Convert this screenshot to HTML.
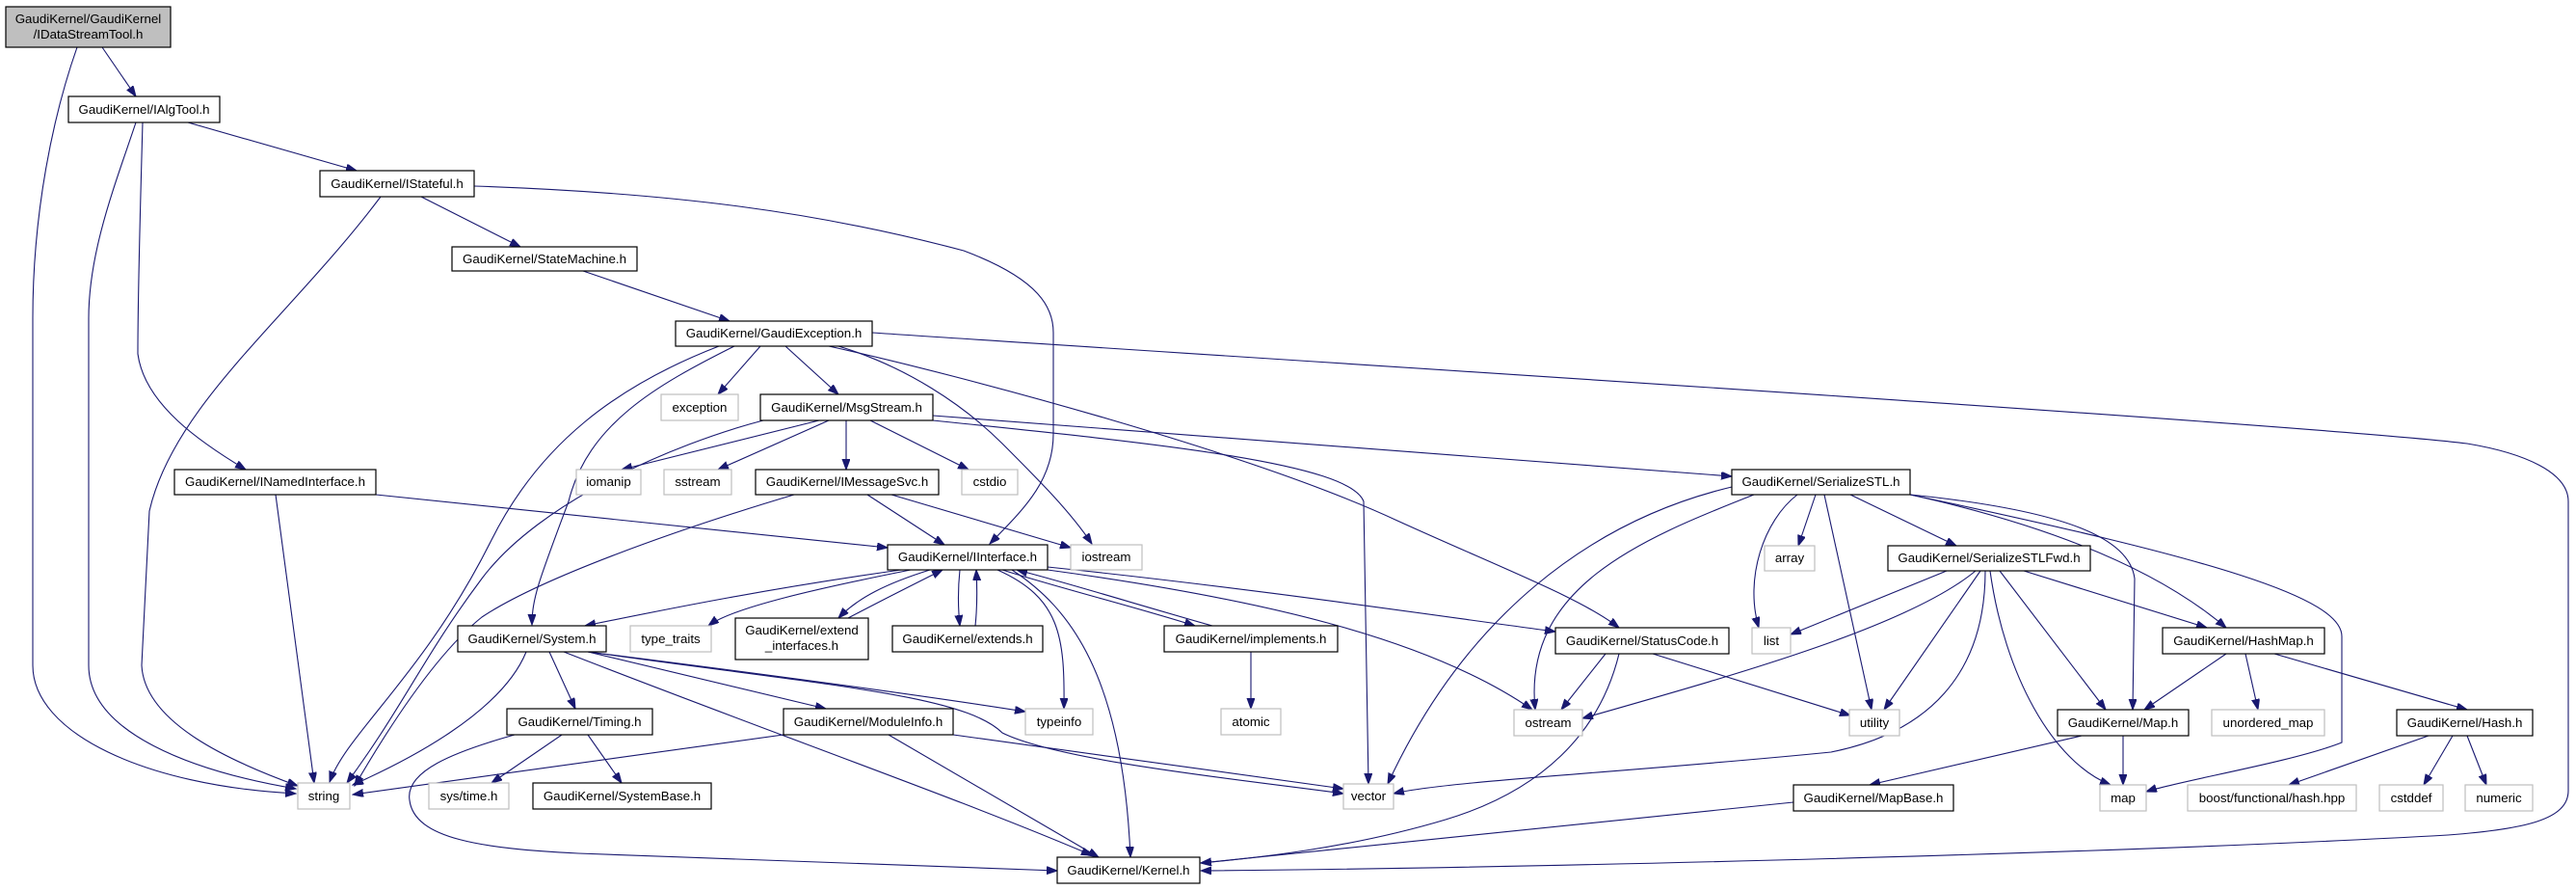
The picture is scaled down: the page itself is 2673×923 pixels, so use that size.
<!DOCTYPE html>
<html><head><meta charset="utf-8"><style>
html,body{margin:0;padding:0;background:#fff;}
svg{display:block;}
text{font-family:"Liberation Sans",Arial,sans-serif;font-size:13.3px;fill:#000;}
.b{fill:#fff;stroke:#000;stroke-width:1.2;}
.g{fill:#fff;stroke:#bfbfbf;stroke-width:1.2;}
.r{fill:#bfbfbf;stroke:#000;stroke-width:1.2;}
path.e{fill:none;stroke:#191970;stroke-width:1.1;marker-end:url(#a);}
</style></head><body>
<svg width="2673" height="923" viewBox="0 0 2673 923" xmlns="http://www.w3.org/2000/svg">
<defs><marker id="a" markerUnits="userSpaceOnUse" markerWidth="12" markerHeight="9" refX="11" refY="4" orient="auto"><path d="M0,0 L11,4 L0,8 z" fill="#191970" stroke="#191970"/></marker></defs>
<g>
<path class="e" d="M106,49 L141,100"/>
<path class="e" d="M80,49 C55,120 34,220 34,330 L34,690 C34,760 150,815 307,823"/>
<path class="e" d="M141,127 C120,190 92,260 92,330 L92,690 C92,760 200,800 307,818"/>
<path class="e" d="M148,127 C146,200 143,300 143,367 C150,420 210,460 255,487"/>
<path class="e" d="M395,204 C300,330 180,420 155,530 L147,690 C150,750 240,790 309,815"/>
<path class="e" d="M195,127 L370,177"/>
<path class="e" d="M437,204 L540,256"/>
<path class="e" d="M492,193 C700,200 850,220 1000,260 C1080,290 1093,320 1093,345 L1093,450 C1093,500 1060,530 1027,564"/>
<path class="e" d="M605,281 L757,333"/>
<path class="e" d="M789,359 L745,409"/>
<path class="e" d="M815,359 L870,409"/>
<path class="e" d="M762,359 C680,400 610,440 590,520 C560,600 552,620 552,648"/>
<path class="e" d="M746,359 C640,400 560,460 510,560 C440,700 360,760 342,811"/>
<path class="e" d="M860,359 C1000,390 1300,470 1450,540 C1560,590 1640,620 1680,651"/>
<path class="e" d="M870,359 C940,380 1000,420 1040,460 C1080,500 1110,530 1133,564"/>
<path class="e" d="M905,345 C1200,365 2400,440 2560,460 C2620,470 2665,490 2665,520 L2665,820 C2665,850 2620,860 2540,866 C2200,885 1600,900 1246,903"/>
<path class="e" d="M850,436 L645,487"/>
<path class="e" d="M860,436 L745,487"/>
<path class="e" d="M878,436 L878,487"/>
<path class="e" d="M903,436 L1005,487"/>
<path class="e" d="M968,431 C1300,455 1600,480 1797,494"/>
<path class="e" d="M968,436 C1200,460 1400,480 1415,520 L1420,813"/>
<path class="e" d="M792,436 C700,460 560,520 500,600 C440,680 420,730 360,812"/>
<path class="e" d="M824,513 C700,550 560,600 500,640 C450,680 400,760 368,815"/>
<path class="e" d="M900,513 L980,565"/>
<path class="e" d="M925,513 L1111,568"/>
<path class="e" d="M390,513 L921,568"/>
<path class="e" d="M286,513 L326,812"/>
<path class="e" d="M935,591 C800,610 700,630 607,649"/>
<path class="e" d="M945,591 C850,610 760,630 735,649"/>
<path class="e" d="M965,591 C920,605 890,620 870,641"/>
<path class="e" d="M880,641 C920,620 950,605 978,591"/>
<path class="e" d="M996,591 C994,610 994,630 996,649"/>
<path class="e" d="M1012,649 C1014,630 1014,610 1013,591"/>
<path class="e" d="M1040,591 C1100,610 1180,630 1240,649"/>
<path class="e" d="M1258,649 C1190,630 1110,605 1055,591"/>
<path class="e" d="M1035,591 C1100,620 1105,660 1104,735"/>
<path class="e" d="M1050,591 C1110,630 1165,700 1173,889"/>
<path class="e" d="M1087,591 C1300,620 1480,660 1590,736"/>
<path class="e" d="M1087,588 C1300,610 1500,640 1614,655"/>
<path class="e" d="M1298,676 L1298,735"/>
<path class="e" d="M546,676 C520,740 420,790 366,814"/>
<path class="e" d="M570,676 L597,735"/>
<path class="e" d="M610,676 L857,735"/>
<path class="e" d="M610,676 C800,700 950,720 1064,738"/>
<path class="e" d="M610,676 C850,710 1000,720 1040,760 C1100,790 1300,810 1394,823"/>
<path class="e" d="M585,676 C800,760 1000,830 1133,887"/>
<path class="e" d="M534,762 C470,780 420,800 425,830 C430,870 500,880 600,885 L1097,903"/>
<path class="e" d="M813,762 L366,824"/>
<path class="e" d="M583,762 L510,812"/>
<path class="e" d="M610,762 L645,812"/>
<path class="e" d="M989,762 L1394,818"/>
<path class="e" d="M922,762 L1140,889"/>
<path class="e" d="M1666,678 L1620,736"/>
<path class="e" d="M1715,678 L1920,742"/>
<path class="e" d="M1680,678 C1660,760 1600,820 1500,850 C1400,880 1300,890 1246,895"/>
<path class="e" d="M1920,513 L2030,566"/>
<path class="e" d="M1884,513 L1866,566"/>
<path class="e" d="M1865,513 C1830,540 1810,600 1825,651"/>
<path class="e" d="M1893,513 L1942,736"/>
<path class="e" d="M1820,513 C1700,560 1580,610 1593,736"/>
<path class="e" d="M1797,505 C1650,540 1520,640 1440,813"/>
<path class="e" d="M1982,513 C2300,580 2430,620 2430,660 L2430,770 C2380,790 2260,810 2227,821"/>
<path class="e" d="M1982,513 C2150,550 2250,600 2310,651"/>
<path class="e" d="M1982,513 C2150,530 2210,560 2215,600 L2213,736"/>
<path class="e" d="M2020,592 L1858,658"/>
<path class="e" d="M2050,592 C1980,650 1800,700 1642,745"/>
<path class="e" d="M2055,592 L1955,736"/>
<path class="e" d="M2060,592 C2060,700 2000,760 1900,780 C1700,800 1500,810 1446,823"/>
<path class="e" d="M2075,592 L2185,736"/>
<path class="e" d="M2065,592 C2080,700 2130,790 2190,814"/>
<path class="e" d="M2100,592 L2290,651"/>
<path class="e" d="M2310,678 L2225,736"/>
<path class="e" d="M2330,678 L2343,736"/>
<path class="e" d="M2360,678 L2560,736"/>
<path class="e" d="M2203,763 L2203,814"/>
<path class="e" d="M2160,763 L1940,814"/>
<path class="e" d="M1861,832 L1246,895"/>
<path class="e" d="M2520,763 L2375,814"/>
<path class="e" d="M2545,763 L2515,814"/>
<path class="e" d="M2560,763 L2580,814"/>
</g>
<g text-anchor="middle">
<rect class="r" x="6" y="7" width="171" height="42"/><text x="91.5" y="24">GaudiKernel/GaudiKernel</text><text x="91.5" y="40">/IDataStreamTool.h</text>
<rect class="b" x="71" y="100" width="157" height="27"/><text x="149.5" y="118">GaudiKernel/IAlgTool.h</text>
<rect class="b" x="332" y="177" width="160" height="27"/><text x="412" y="195">GaudiKernel/IStateful.h</text>
<rect class="b" x="469" y="256" width="192" height="25"/><text x="565" y="273">GaudiKernel/StateMachine.h</text>
<rect class="b" x="701" y="333" width="204" height="26"/><text x="803" y="350">GaudiKernel/GaudiException.h</text>
<rect class="g" x="686" y="409" width="80" height="27"/><text x="726" y="427">exception</text>
<rect class="b" x="789" y="409" width="179" height="27"/><text x="878.5" y="427">GaudiKernel/MsgStream.h</text>
<rect class="b" x="181" y="487" width="209" height="26"/><text x="285.5" y="504">GaudiKernel/INamedInterface.h</text>
<rect class="g" x="598" y="487" width="67" height="26"/><text x="631.5" y="504">iomanip</text>
<rect class="g" x="689" y="487" width="70" height="26"/><text x="724" y="504">sstream</text>
<rect class="b" x="784" y="487" width="190" height="26"/><text x="879" y="504">GaudiKernel/IMessageSvc.h</text>
<rect class="g" x="998" y="487" width="58" height="26"/><text x="1027" y="504">cstdio</text>
<rect class="b" x="1797" y="487" width="185" height="26"/><text x="1889.5" y="504">GaudiKernel/SerializeSTL.h</text>
<rect class="b" x="921" y="565" width="166" height="26"/><text x="1004" y="582">GaudiKernel/IInterface.h</text>
<rect class="g" x="1111" y="565" width="74" height="26"/><text x="1148" y="582">iostream</text>
<rect class="g" x="1831" y="566" width="52" height="26"/><text x="1857" y="583">array</text>
<rect class="b" x="1959" y="566" width="210" height="26"/><text x="2064" y="583">GaudiKernel/SerializeSTLFwd.h</text>
<rect class="b" x="475" y="649" width="154" height="27"/><text x="552" y="667">GaudiKernel/System.h</text>
<rect class="g" x="654" y="649" width="84" height="27"/><text x="696" y="667">type_traits</text>
<rect class="b" x="763" y="641" width="138" height="43"/><text x="832" y="658">GaudiKernel/extend</text><text x="832" y="674">_interfaces.h</text>
<rect class="b" x="926" y="649" width="156" height="27"/><text x="1004" y="667">GaudiKernel/extends.h</text>
<rect class="b" x="1208" y="649" width="180" height="27"/><text x="1298" y="667">GaudiKernel/implements.h</text>
<rect class="b" x="1614" y="651" width="180" height="27"/><text x="1704" y="669">GaudiKernel/StatusCode.h</text>
<rect class="g" x="1818" y="651" width="40" height="27"/><text x="1838" y="669">list</text>
<rect class="b" x="2244" y="651" width="168" height="27"/><text x="2328" y="669">GaudiKernel/HashMap.h</text>
<rect class="b" x="526" y="735" width="151" height="27"/><text x="601.5" y="753">GaudiKernel/Timing.h</text>
<rect class="b" x="813" y="735" width="176" height="27"/><text x="901" y="753">GaudiKernel/ModuleInfo.h</text>
<rect class="g" x="1064" y="735" width="70" height="27"/><text x="1099" y="753">typeinfo</text>
<rect class="g" x="1267" y="735" width="62" height="27"/><text x="1298" y="753">atomic</text>
<rect class="g" x="1571" y="736" width="71" height="27"/><text x="1606.5" y="754">ostream</text>
<rect class="g" x="1919" y="736" width="52" height="27"/><text x="1945" y="754">utility</text>
<rect class="b" x="2135" y="736" width="136" height="27"/><text x="2203" y="754">GaudiKernel/Map.h</text>
<rect class="g" x="2295" y="736" width="117" height="27"/><text x="2353.5" y="754">unordered_map</text>
<rect class="b" x="2487" y="736" width="141" height="27"/><text x="2557.5" y="754">GaudiKernel/Hash.h</text>
<rect class="g" x="309" y="812" width="54" height="27"/><text x="336" y="830">string</text>
<rect class="g" x="445" y="812" width="83" height="27"/><text x="486.5" y="830">sys/time.h</text>
<rect class="b" x="553" y="812" width="185" height="27"/><text x="645.5" y="830">GaudiKernel/SystemBase.h</text>
<rect class="g" x="1394" y="813" width="52" height="26"/><text x="1420" y="830">vector</text>
<rect class="b" x="1861" y="814" width="166" height="27"/><text x="1944" y="832">GaudiKernel/MapBase.h</text>
<rect class="g" x="2179" y="814" width="48" height="27"/><text x="2203" y="832">map</text>
<rect class="g" x="2270" y="814" width="175" height="27"/><text x="2357.5" y="832">boost/functional/hash.hpp</text>
<rect class="g" x="2469" y="814" width="66" height="27"/><text x="2502" y="832">cstddef</text>
<rect class="g" x="2558" y="814" width="70" height="27"/><text x="2593" y="832">numeric</text>
<rect class="b" x="1097" y="889" width="148" height="27"/><text x="1171" y="907">GaudiKernel/Kernel.h</text>
</g>
</svg>
</body></html>
